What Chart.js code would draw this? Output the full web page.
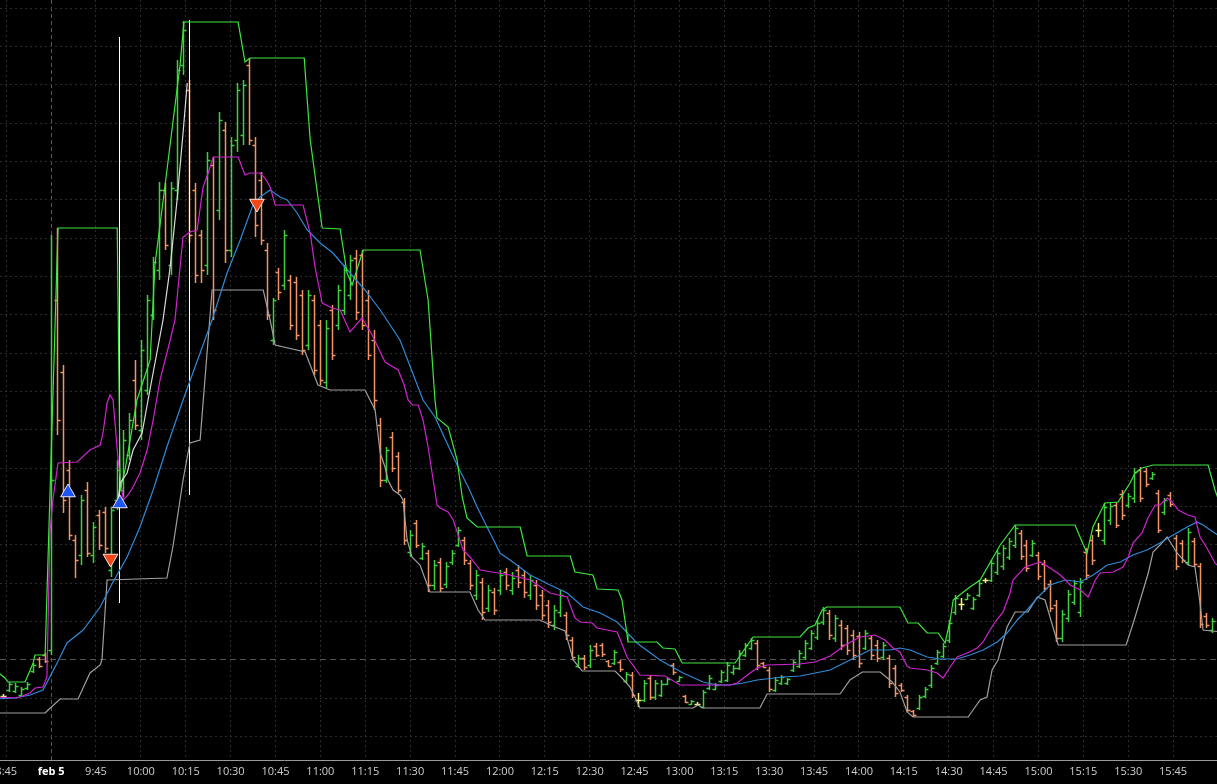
<!DOCTYPE html>
<html>
<head>
<meta charset="utf-8">
<script src="https://cdn.jsdelivr.net/npm/chart.js@4.4.1/dist/chart.umd.min.js"></script>
<style>
html, body { margin: 0; padding: 0; background: #000; overflow: hidden; width: 1217px; height: 784px; }
#wrap { position: absolute; left: -40px; top: 0; width: 1297px; height: 784px; }
</style>
</head>
<body>
<div id="wrap"><canvas id="chart" width="1297" height="784"></canvas></div>
<script>
// 2-minute bars, time in minutes from 9:30 (premarket slots are negative)
const firstBar = -16;
const barStep = 2;

const opens = [3.04,3.10,3.09,3.05,3.12,3.29,3.41,3.45,
  3.50,7.00,6.28,5.30,4.60,4.45,5.10,4.45,4.85,4.88,4.30,5.00,5.10,5.45,6.20,5.70,6.10,6.85,7.30,8.10,7.35,8.10,9.35,9.10,
  8.10,7.65,7.35,8.35,7.90,8.70,7.50,8.60,8.65,9.35,8.55,8.20,7.50,6.60,7.28,7.15,7.20,7.18,7.05,6.55,7.00,6.75,6.18,6.90,
  6.75,6.90,7.05,7.42,7.45,7.00,6.60,5.75,5.20,5.63,5.44,4.98,4.48,4.77,4.42,4.47,4.15,4.38,4.16,4.38,4.55,4.60,4.37,4.05,
  4.18,3.92,4.08,4.10,4.28,4.10,4.30,4.25,4.05,4.15,4.05,3.95,3.75,3.88,3.85,3.60,3.34,3.42,3.35,3.54,3.55,3.39,3.37,3.38,
  3.19,3.25,3.00,3.00,3.22,3.03,3.05,3.16,3.35,3.19,3.04,2.96,2.96,2.93,3.12,3.11,3.19,3.20,3.28,3.32,3.45,3.52,3.57,3.37,
  3.30,3.10,3.17,3.17,3.30,3.34,3.43,3.52,3.63,3.78,3.87,3.62,3.75,3.72,3.65,3.64,3.52,3.62,3.55,3.43,3.42,3.32,3.15,3.03,
  2.89,2.92,3.04,3.15,3.37,3.44,3.60,3.88,3.96,4.01,3.92,4.05,4.20,4.20,4.28,4.34,4.43,4.55,4.67,4.55,4.45,4.45,4.36,4.16,
  3.95,3.62,3.82,3.98,3.88,4.48,4.60,4.70,4.60,4.80,4.95,5.06,4.95,5.02,5.30,5.29,5.22,5.07,4.88,5.05,4.62,4.57,4.38,4.59,
  4.34,3.84,3.70];
const highs = [3.06,3.18,3.17,3.13,3.18,3.37,3.43,3.47,
  7.65,7.72,6.35,5.40,4.65,5.05,5.18,4.78,4.90,4.93,4.93,5.40,5.70,5.87,6.40,6.60,7.05,7.43,8.18,8.17,8.18,9.40,9.79,9.20,
  8.17,7.70,8.48,8.43,8.88,8.78,8.63,9.17,9.20,9.42,8.63,8.28,7.57,7.02,7.32,7.70,7.25,7.23,7.10,7.10,7.05,6.80,6.80,6.95,
  7.15,7.35,7.45,7.50,7.50,7.10,6.70,5.82,5.53,5.68,5.48,5.02,4.70,4.80,4.57,4.50,4.40,4.42,4.38,4.50,4.73,4.63,4.40,4.30,
  4.22,4.15,4.12,4.30,4.32,4.28,4.35,4.30,4.25,4.20,4.10,4.00,3.95,4.10,3.88,3.63,3.45,3.45,3.55,3.57,3.57,3.40,3.50,3.40,
  3.28,3.28,3.07,3.20,3.25,3.20,3.20,3.22,3.37,3.24,3.05,3.00,2.98,3.10,3.25,3.17,3.30,3.38,3.35,3.50,3.57,3.62,3.60,3.38,
  3.33,3.23,3.25,3.22,3.40,3.50,3.60,3.70,3.80,3.93,3.90,3.85,3.80,3.75,3.70,3.68,3.70,3.65,3.60,3.58,3.45,3.35,3.17,3.05,
  2.90,3.05,3.13,3.35,3.50,3.57,3.80,4.05,4.02,4.07,4.03,4.20,4.22,4.40,4.50,4.55,4.62,4.75,4.70,4.60,4.60,4.48,4.40,4.20,
  4.00,3.90,4.10,4.20,4.22,4.52,4.65,4.77,4.97,4.97,4.98,5.10,5.07,5.32,5.33,5.32,5.28,5.10,5.02,5.08,4.65,4.60,4.72,4.62,
  4.37,3.87,3.82];
const lows = [3.01,3.08,3.07,3.03,3.10,3.27,3.32,3.37,
  3.45,5.65,4.87,4.60,4.22,4.35,4.43,4.37,4.50,4.47,4.23,4.90,5.03,5.40,5.70,5.60,6.05,6.80,7.20,7.50,7.25,8.00,9.25,7.57,
  7.17,7.17,7.25,6.80,7.80,7.37,7.43,8.48,8.55,8.55,7.63,7.55,6.80,6.55,7.00,7.10,6.70,6.60,6.45,6.50,6.25,6.15,6.12,6.40,
  6.70,6.85,7.00,6.80,6.70,6.40,5.90,5.13,5.17,5.28,5.07,4.55,4.43,4.52,4.40,4.08,4.10,4.08,4.12,4.35,4.53,4.35,4.10,4.00,
  3.80,3.88,3.85,4.05,4.10,4.05,4.12,4.02,4.00,3.90,3.80,3.72,3.70,3.83,3.60,3.40,3.32,3.30,3.32,3.43,3.43,3.33,3.35,3.28,
  3.17,3.02,2.93,2.98,3.00,3.00,3.03,3.15,3.25,3.18,2.97,2.95,2.94,2.92,3.10,3.10,3.17,3.18,3.25,3.30,3.43,3.50,3.30,3.32,
  3.08,3.08,3.15,3.15,3.28,3.32,3.40,3.50,3.60,3.75,3.60,3.58,3.50,3.45,3.40,3.32,3.50,3.40,3.38,3.40,3.12,3.03,3.08,2.88,
  2.83,2.90,3.02,3.12,3.35,3.42,3.57,3.85,3.90,4.00,3.90,4.03,4.17,4.18,4.25,4.30,4.40,4.52,4.40,4.28,4.43,4.20,4.08,3.88,
  3.58,3.58,3.78,3.95,3.83,4.20,4.35,4.63,4.55,4.75,4.72,4.80,4.92,4.97,4.98,5.13,5.20,4.67,4.85,4.93,4.30,4.37,4.35,4.33,
  3.72,3.72,3.67];
const closes = [3.04,3.16,3.14,3.11,3.16,3.35,3.34,3.39,
  5.20,5.80,5.00,4.65,4.40,5.00,4.47,4.73,4.55,4.52,4.90,5.30,5.60,5.80,5.75,6.50,7.00,7.38,8.10,7.55,8.12,9.30,9.70,7.65,
  7.25,7.30,8.40,6.90,8.80,7.50,8.55,9.10,9.15,8.60,7.75,7.60,6.85,7.00,7.08,7.65,6.75,6.65,6.50,7.05,6.30,6.20,6.72,6.45,
  7.10,7.30,7.40,6.88,6.75,6.45,6.00,5.20,5.50,5.32,5.10,4.60,4.65,4.55,4.54,4.15,4.35,4.12,4.34,4.47,4.70,4.40,4.15,4.25,
  3.88,4.10,3.90,4.25,4.15,4.22,4.18,4.08,4.20,3.95,3.85,3.78,3.90,4.05,3.65,3.43,3.42,3.33,3.50,3.45,3.46,3.34,3.48,3.31,
  3.26,3.05,3.00,3.17,3.03,3.17,3.16,3.21,3.28,3.23,2.98,2.99,2.96,3.08,3.22,3.15,3.28,3.35,3.32,3.47,3.55,3.60,3.35,3.33,
  3.11,3.20,3.23,3.21,3.38,3.47,3.57,3.67,3.77,3.90,3.65,3.82,3.55,3.50,3.45,3.37,3.67,3.45,3.42,3.55,3.17,3.07,3.10,2.90,
  2.85,3.03,3.11,3.32,3.48,3.54,3.77,4.02,3.96,4.05,4.01,4.17,4.20,4.37,4.47,4.52,4.59,4.72,4.44,4.32,4.57,4.24,4.12,3.92,
  3.62,3.86,4.06,4.17,4.18,4.25,4.40,4.70,4.93,4.94,4.75,4.85,5.04,5.28,5.02,5.16,5.26,4.70,5.00,4.96,4.34,4.40,4.68,4.36,
  3.76,3.75,3.79];

// odd single-print spikes: [time, high, low]
const spikes = [[22.7, 9.63, 3.97], [46.1, 9.80, 5.05]];

// indicator lines: [time, price]
const upperBand = [[-18.7,3.30],[-15.4,3.22],[-14.4,3.18],[-8.7,3.18],[-6.0,3.37],[-5.4,3.45],[-2.0,3.45],[2.3,7.72],
  [22.1,7.72],[23.1,5.10],[24.7,5.30],[28.7,6.00],[33.1,6.40],[34.7,7.35],[38.1,8.15],[43.1,9.35],[44.4,9.78],[62.5,9.78],
  [64.8,9.38],[66.5,9.42],[84.6,9.42],[85.6,9.00],[86.6,8.60],[90.6,7.72],[96.6,7.71],[98.9,7.27],[100.6,7.15],[104.3,7.50],
  [123.3,7.50],[126.0,7.00],[128.3,6.00],[129.0,5.82],[132.7,5.73],[135.7,5.40],[137.4,5.03],[139.0,4.82],[142.4,4.73],
  [156.8,4.73],[159.1,4.44],[173.5,4.44],[175.1,4.28],[181.1,4.25],[182.5,4.11],[189.5,4.10],[190.8,4.00],[192.5,3.65],
  [192.8,3.58],[202.5,3.58],[204.5,3.52],[208.5,3.51],[210.9,3.37],[228.6,3.37],[234.6,3.63],[250.3,3.63],[253.0,3.72],
  [255.3,3.75],[257.7,3.90],[259.3,3.93],[283.7,3.93],[286.4,3.77],[289.8,3.77],[292.8,3.67],[296.5,3.67],[298.8,3.57],
  [300.5,3.80],[301.5,4.00],[304.5,4.07],[307.1,4.13],[310.5,4.20],[317.2,4.55],[322.2,4.75],[342.2,4.75],[343.9,4.63],
  [346.2,4.47],[348.2,4.73],[352.2,4.97],[356.6,4.98],[360.6,5.17],[362.3,5.27],[364.6,5.32],[368.3,5.35],[386.7,5.35],
  [389.0,5.10],[391.4,4.90]];
const lowerBand = [[-18.7,2.87],[-2.0,2.87],[-1.0,2.90],[3.0,3.01],[9.0,3.01],[13.0,3.27],[16.4,3.35],[17.0,3.40],
  [18.7,4.20],[38.7,4.22],[40.7,4.53],[44.1,5.20],[46.4,5.57],[49.8,5.60],[53.8,7.10],[70.9,7.10],[73.2,6.80],[74.9,6.55],
  [84.9,6.48],[89.2,6.15],[93.2,6.10],[104.9,6.10],[108.3,5.90],[110.0,5.47],[111.6,5.33],[112.6,5.20],[114.3,5.10],
  [116.6,5.05],[117.6,5.00],[119.0,4.60],[120.6,4.43],[123.3,4.35],[126.6,4.08],[140.0,4.08],[142.7,3.90],[145.0,3.80],
  [163.4,3.80],[166.8,3.75],[171.8,3.69],[174.5,3.40],[177.5,3.29],[188.5,3.29],[190.8,3.22],[193.5,3.13],[196.8,2.92],
  [214.6,2.92],[216.2,2.95],[217.9,2.92],[236.9,2.92],[239.3,3.06],[263.7,3.06],[267.0,3.20],[271.1,3.28],[277.1,3.28],
  [281.1,3.18],[283.7,3.08],[286.1,2.88],[288.1,2.83],[306.5,2.83],[310.5,3.00],[312.8,3.03],[314.5,3.30],[316.5,3.40],
  [319.5,3.73],[322.2,3.88],[326.5,3.88],[329.6,4.03],[332.2,4.00],[336.6,3.55],[359.3,3.55],[362.0,3.80],[366.7,4.27],
  [368.3,4.48],[370.6,4.55],[373.0,4.63],[376.3,4.47],[380.0,4.35],[382.3,4.33],[384.0,3.97],[385.0,3.70],[391.4,3.68]];
const fastAvg = [[-18.7,3.03],[-11.4,3.02],[-7.0,3.07],[-5.4,3.12],[-2.7,3.13],[-1.4,3.23],[-0.4,4.67],[0.6,5.00],
  [2.3,5.37],[8.7,5.38],[13.0,5.50],[16.4,5.55],[17.4,5.68],[18.7,5.97],[19.7,6.05],[20.7,6.00],[22.4,5.40],[24.1,5.00],
  [25.7,5.05],[27.4,5.13],[29.7,5.27],[32.1,5.50],[34.1,5.80],[36.4,6.20],[39.8,6.60],[41.4,6.80],[43.1,7.33],[44.1,7.63],
  [46.4,7.68],[48.8,7.70],[50.8,8.13],[52.5,8.27],[54.2,8.43],[62.5,8.43],[64.8,8.25],[66.5,8.27],[69.8,8.27],[71.5,8.22],
  [73.2,8.13],[74.9,7.95],[84.2,7.95],[86.6,7.67],[88.2,7.33],[90.6,6.97],[93.9,6.92],[96.6,6.90],[99.9,6.68],[103.9,6.82],
  [107.3,6.65],[111.6,6.38],[116.0,6.30],[118.0,6.15],[119.3,6.00],[120.7,5.95],[122.7,5.95],[124.3,5.80],[126.0,5.53],
  [127.7,5.20],[129.0,4.95],[130.0,4.92],[132.7,4.88],[134.4,4.80],[137.7,4.50],[140.0,4.43],[143.4,4.30],[153.4,4.25],
  [160.1,4.20],[166.8,4.07],[172.5,4.03],[175.1,3.82],[176.8,3.78],[180.8,3.77],[182.5,3.72],[189.2,3.68],[192.5,3.43],
  [196.8,3.25],[205.2,3.24],[210.2,3.15],[226.9,3.15],[229.3,3.17],[233.6,3.27],[236.0,3.32],[239.3,3.35],[250.3,3.36],
  [255.3,3.38],[260.4,3.44],[265.4,3.55],[270.4,3.63],[275.4,3.65],[278.7,3.60],[281.4,3.52],[283.7,3.48],[286.1,3.34],
  [287.1,3.32],[292.8,3.30],[296.1,3.27],[298.1,3.22],[300.5,3.33],[302.8,3.43],[306.2,3.47],[309.5,3.52],[311.5,3.58],
  [313.2,3.67],[315.5,3.78],[318.2,3.88],[320.5,4.07],[321.5,4.20],[325.5,4.33],[330.6,4.38],[333.9,4.32],[337.3,4.25],
  [340.6,4.15],[344.0,4.10],[346.6,4.03],[349.0,4.20],[350.6,4.27],[355.0,4.28],[358.3,4.33],[360.0,4.43],[361.6,4.57],
  [364.6,4.67],[366.6,4.82],[369.0,4.95],[370.6,4.95],[373.0,5.02],[374.7,4.98],[376.7,4.90],[380.0,4.85],[382.3,4.83],
  [384.0,4.63],[386.3,4.52],[389.0,4.37],[391.4,4.30]];
const slowAvg = [[-18.7,3.01],[-12.0,3.02],[-7.0,3.05],[-2.7,3.10],[2.0,3.37],[5.3,3.57],[10.7,3.70],[16.4,3.93],
  [20.7,4.18],[25.4,4.43],[29.7,4.73],[34.1,5.10],[38.7,5.53],[44.1,6.00],[53.8,6.80],[58.8,7.27],[63.2,7.60],[67.2,7.93],
  [69.8,8.03],[73.2,8.10],[76.5,8.03],[78.9,8.00],[82.2,7.87],[85.6,7.70],[89.9,7.57],[94.2,7.47],[99.9,7.27],[104.9,7.10],
  [110.0,6.90],[116.6,6.60],[124.3,6.00],[128.3,5.83],[132.3,5.57],[136.0,5.33],[139.4,5.13],[142.4,4.93],[145.7,4.73],
  [148.4,4.57],[150.0,4.47],[153.4,4.40],[160.1,4.25],[166.8,4.15],[172.5,4.07],[177.8,3.93],[183.5,3.87],[189.2,3.78],
  [195.8,3.57],[203.5,3.40],[211.2,3.27],[217.9,3.18],[222.6,3.15],[226.9,3.15],[231.3,3.17],[236.0,3.20],[244.6,3.23],
  [250.3,3.24],[260.4,3.30],[267.0,3.40],[273.7,3.50],[280.4,3.50],[283.7,3.52],[287.1,3.50],[292.8,3.43],[297.1,3.41],
  [302.8,3.41],[307.1,3.45],[311.5,3.50],[316.2,3.58],[319.5,3.67],[322.9,3.80],[326.2,3.90],[329.6,4.02],[333.9,4.15],
  [338.9,4.20],[344.0,4.18],[348.3,4.25],[353.0,4.35],[357.3,4.38],[361.6,4.45],[366.3,4.50],[370.6,4.57],[375.0,4.65],
  [379.7,4.73],[383.0,4.78],[385.0,4.75],[388.4,4.68],[391.4,4.62]];
const trendLine = [[22.4,5.00],[23.1,5.17],[25.4,5.27],[27.4,5.50],[30.4,5.67],[32.4,6.00],[37.4,6.80],[39.8,7.33],
  [42.1,8.00],[44.1,8.67],[45.5,9.17]];

const buySignals = [[5.65,5.075],[23.0,4.965]];
const sellSignals = [[19.85,4.415],[68.8,7.965]];

const tickMinutes = [-15,0,15,30,45,60,75,90,105,120,135,150,165,180,195,210,225,240,255,270,285,300,315,330,345,360,375];
const tickLabels = ['8:45','feb 5','9:45','10:00','10:15','10:30','10:45','11:00','11:15','11:30','11:45','12:00','12:15',
  '12:30','12:45','13:00','13:15','13:30','13:45','14:00','14:15','14:30','14:45','15:00','15:15','15:30','15:45'];

const prevClose = 3.403;   // dashed reference level
const gridStep = 0.3833;

const UP = '#3fd03f', DOWN = '#f39466', FLAT = '#f6f27a';

const ohlcPlugin = {
  id: 'ohlc',
  beforeDatasetsDraw(chart) {
    const { ctx, chartArea, scales: { x, y } } = chart;
    ctx.save();
    ctx.beginPath();
    ctx.rect(chartArea.left, chartArea.top, chartArea.width, chartArea.height);
    ctx.clip();
    ctx.lineWidth = 1.5;
    opens.forEach(function (o, i) {
      const c = closes[i];
      const px = Math.round(x.getPixelForValue(firstBar + i * barStep)) + 0.5;
      const yo = Math.round(y.getPixelForValue(o)) + 0.5;
      const yc = Math.round(y.getPixelForValue(c)) + 0.5;
      ctx.strokeStyle = c > o ? UP : (c < o ? DOWN : FLAT);
      ctx.beginPath();
      ctx.moveTo(px, Math.round(y.getPixelForValue(highs[i])));
      ctx.lineTo(px, Math.round(y.getPixelForValue(lows[i])));
      ctx.moveTo(px - 3, yo);
      ctx.lineTo(px, yo);
      ctx.moveTo(px, yc);
      ctx.lineTo(px + 3, yc);
      ctx.stroke();
    });
    ctx.strokeStyle = '#ffffff';
    ctx.lineWidth = 1;
    spikes.forEach(function (s) {
      const px = Math.round(x.getPixelForValue(s[0])) + 0.5;
      ctx.beginPath();
      ctx.moveTo(px, y.getPixelForValue(s[1]));
      ctx.lineTo(px, y.getPixelForValue(s[2]));
      ctx.stroke();
    });
    ctx.restore();
  }
};

function pts(arr) {
  return arr.map(p => ({ x: p[0], y: p[1] }));
}

function lineSet(label, arr, color) {
  return {
    type: 'line', label: label, data: pts(arr), borderColor: color, borderWidth: 1.2,
    pointRadius: 0, tension: 0, fill: false
  };
}

function noPadding(scale) {
  scale.paddingLeft = 0;
  scale.paddingRight = 0;
  scale.paddingTop = 0;
  scale.paddingBottom = 0;
}

const isLevel = v => Math.abs(v - prevClose) < 1e-6;

new Chart(document.getElementById('chart').getContext('2d'), {
  type: 'line',
  data: {
    datasets: [
      {
        type: 'scatter', label: 'buy', data: pts(buySignals), pointStyle: 'triangle', pointRadius: 8.5,
        backgroundColor: '#1f55f5', borderColor: '#e8e8ff', borderWidth: 1
      },
      {
        type: 'scatter', label: 'sell', data: pts(sellSignals), pointStyle: 'triangle', rotation: 180,
        pointRadius: 8.5, backgroundColor: '#f5461a', borderColor: '#ffe8e0', borderWidth: 1
      },
      lineSet('trend', trendLine, '#dcdcdc'),
      lineSet('upper', upperBand, '#3ee83e'),
      lineSet('fast', fastAvg, '#d024d0'),
      lineSet('slow', slowAvg, '#2f8ad8'),
      lineSet('lower', lowerBand, '#a0a0a0')
    ]
  },
  options: {
    responsive: false,
    animation: false,
    layout: { padding: 0, autoPadding: false },
    plugins: { legend: { display: false }, tooltip: { enabled: false } },
    scales: {
      x: {
        type: 'linear',
        min: -30.45,
        max: 403.04,
        afterBuildTicks: function (scale) {
          scale.ticks = tickMinutes.map(v => ({ value: v }));
        },
        afterFit: function (scale) {
          noPadding(scale);
          scale.height = 24;
        },
        grid: {
          drawTicks: false,
          color: c => (c.tick && c.tick.value === 0) ? '#5a5a5a' : '#2c2c2c'
        },
        border: {
          display: true, color: '#9a9a9a', width: 1,
          dash: c => (c.tick && c.tick.value === 0) ? [4, 3] : [2, 3]
        },
        ticks: {
          autoSkip: false, maxRotation: 0, padding: 5,
          callback: (v, i) => tickLabels[i],
          color: c => (c.tick && c.tick.value === 0) ? '#ffffff' : '#cfcfcf',
          font: c => ({ family: 'Open Sans', size: 11, weight: (c.tick && c.tick.value === 0) ? 'bold' : 'normal' })
        }
      },
      y: {
        type: 'linear',
        position: 'right',
        min: 2.40,
        max: 10.00,
        afterBuildTicks: function (scale) {
          const t = [];
          for (let k = -2; k <= 17; k++) t.push({ value: prevClose + k * gridStep });
          scale.ticks = t;
        },
        afterFit: function (scale) {
          noPadding(scale);
          scale.width = 0;
        },
        ticks: { display: false },
        grid: {
          drawTicks: false,
          color: c => (c.tick && isLevel(c.tick.value)) ? '#555555' : '#2c2c2c'
        },
        border: {
          display: false,
          dash: c => (c.tick && isLevel(c.tick.value)) ? [6, 4] : [2, 3]
        }
      }
    }
  },
  plugins: [ohlcPlugin]
});
</script>
</body>
</html>
